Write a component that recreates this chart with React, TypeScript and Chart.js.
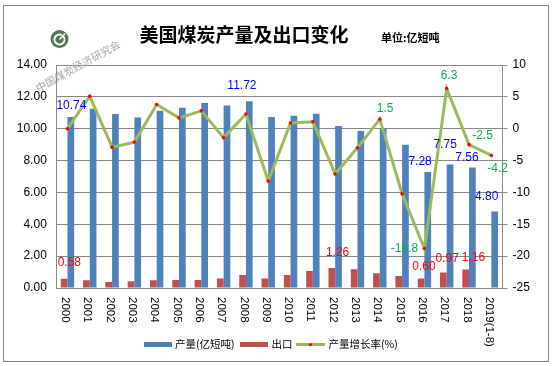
import React, { useEffect, useRef } from 'react';
import { Chart, registerables } from 'chart.js';

Chart.register(...registerables);

// ---------------- data ----------------
const years = ['2000', '2001', '2002', '2003', '2004', '2005', '2006', '2007', '2008', '2009',
  '2010', '2011', '2012', '2013', '2014', '2015', '2016', '2017', '2018', '2019(1-8)'];

// 产量 (亿短吨)
const production = [10.74, 11.25, 10.93, 10.70, 11.12, 11.31, 11.62, 11.45, 11.72, 10.74,
  10.82, 10.94, 10.17, 9.85, 10.01, 9.00, 7.28, 7.75, 7.56, 4.80];

// 出口 (亿短吨)
const exportsData: (number | null)[] = [0.58, 0.49, 0.38, 0.43, 0.48, 0.50, 0.50, 0.59, 0.82, 0.59,
  0.82, 1.07, 1.26, 1.18, 0.93, 0.75, 0.60, 0.97, 1.16, null];

// 产量增长率 (%)
const growth = [0.0, 5.1, -2.9, -2.1, 3.8, 1.7, 2.8, -1.4, 2.3, -8.2,
  0.9, 1.1, -7.1, -3.0, 1.5, -10.2, -18.8, 6.3, -2.5, -4.2];

// which points carry a value label
const prodLabelIdx = [0, 8, 16, 17, 18, 19];
const expLabelIdx = [0, 12, 16, 17, 18];
const growthLabelIdx = [14, 16, 17, 18, 19];

const leftAxis = { min: 0, max: 14, step: 2 };
const rightAxis = { min: -25, max: 10, step: 5 };

const title = '美国煤炭产量及出口变化';
const unitText = '单位:亿短吨';
const watermark = '中国煤炭经济研究会';
const seriesNames = ['产量(亿短吨)', '出口', '产量增长率(%)'];

// ---------------- styling ----------------
const BLUE = '#4F81BD';
const RED = '#C0504D';
const GREEN = '#9BBB59';
const GRID = '#888888';
const LATIN = "'Liberation Sans', Arial, sans-serif";
const CJK = "'Noto Sans CJK SC', sans-serif";

// label placement offsets [dx from category centre, dy from mark top]
const prodLabelOffsets: Record<number, [number, number]> = {
  0: [4, -11], 8: [-4, -15.5], 16: [-4.3, -10], 17: [-1.6, -19.7], 18: [-2, -10.3], 19: [-4.7, -15],
};
const expLabelOffsets: Record<number, [number, number]> = {
  0: [1.9, -15.7], 12: [2.4, -15], 16: [-0.4, -12], 17: [0.4, -14], 18: [4.4, -12],
};
const growthLabelOffsets: Record<number, [number, number]> = {
  14: [5.3, -10], 16: [-19.9, 0], 17: [2.4, -12.8], 18: [13.5, -9.3], 19: [6.3, 13.3],
};

const decorPlugin = {
  id: 'decor',
  afterDraw(chart: any) {
    const ctx: CanvasRenderingContext2D = chart.ctx;
    const xs = chart.scales.x;

    ctx.save();
    // outer frame
    ctx.strokeStyle = GRID;
    ctx.lineWidth = 1;
    ctx.strokeRect(3.5, 5.5, 545, 356);

    // logo
    ctx.fillStyle = '#527650';
    ctx.beginPath();
    ctx.arc(59.5, 39, 9, 0, Math.PI * 2);
    ctx.fill();
    ctx.strokeStyle = '#ffffff';
    ctx.lineWidth = 2;
    ctx.beginPath();
    ctx.arc(59.5, 39.5, 5, -0.25 * Math.PI, 1.65 * Math.PI);
    ctx.stroke();
    ctx.lineWidth = 1.5;
    ctx.beginPath();
    ctx.moveTo(59.5, 39.5);
    ctx.lineTo(65, 33.5);
    ctx.stroke();

    // watermark
    ctx.save();
    ctx.translate(78, 66);
    ctx.rotate(-29 * Math.PI / 180);
    ctx.fillStyle = '#a6a6a6';
    ctx.font = `10.5px ${CJK}`;
    ctx.textAlign = 'center';
    ctx.textBaseline = 'middle';
    ctx.fillText(watermark, 0, 0);
    ctx.restore();

    // title
    ctx.fillStyle = '#000';
    ctx.font = `bold 19px ${CJK}`;
    ctx.textAlign = 'center';
    ctx.textBaseline = 'middle';
    ctx.fillText(title, 244, 34.5);
    ctx.font = `bold 11px ${CJK}`;
    ctx.textAlign = 'left';
    ctx.fillText(unitText, 381, 37.5);

    // x category labels, rotated to read top-to-bottom
    ctx.font = `11.5px ${LATIN}`;
    ctx.fillStyle = '#000';
    years.forEach((y, i) => {
      const x = xs.getPixelForValue(i) - 2.2;
      ctx.save();
      ctx.translate(x, 297);
      ctx.rotate(Math.PI / 2);
      ctx.textAlign = 'left';
      ctx.textBaseline = 'middle';
      ctx.fillText(y, 0, 0);
      ctx.restore();
    });

    // value labels
    ctx.font = `12px ${LATIN}`;
    ctx.textAlign = 'center';
    ctx.textBaseline = 'middle';
    const drawLabels = (di: number, idx: number[], offs: Record<number, [number, number]>, color: string, fmt: (v: number) => string) => {
      const meta = chart.getDatasetMeta(di);
      const ds = chart.data.datasets[di].data;
      ctx.fillStyle = color;
      idx.forEach((i) => {
        const el = meta.data[i];
        if (!el || ds[i] == null) return;
        const [dx, dy] = offs[i] || [0, -10];
        ctx.fillText(fmt(ds[i] as number), xs.getPixelForValue(i) + dx, el.y + dy);
      });
    };
    drawLabels(0, prodLabelIdx, prodLabelOffsets, '#0000FF', (v) => v.toFixed(2));
    drawLabels(1, expLabelIdx, expLabelOffsets, '#FF0000', (v) => v.toFixed(2));
    drawLabels(2, growthLabelIdx, growthLabelOffsets, '#00B050', (v) => v.toFixed(1));

    // legend
    const ly = 344.5;
    ctx.font = `10.5px ${CJK}`;
    ctx.textAlign = 'left';
    ctx.textBaseline = 'middle';
    ctx.fillStyle = BLUE;
    ctx.fillRect(144, 342, 28, 5);
    ctx.fillStyle = '#000';
    ctx.fillText(seriesNames[0], 175, ly);
    ctx.fillStyle = RED;
    ctx.fillRect(240, 342, 28, 5);
    ctx.fillStyle = '#000';
    ctx.fillText(seriesNames[1], 271.5, ly);
    ctx.strokeStyle = GREEN;
    ctx.lineWidth = 3;
    ctx.beginPath();
    ctx.moveTo(296, ly);
    ctx.lineTo(325, ly);
    ctx.stroke();
    ctx.fillStyle = '#FF0000';
    ctx.beginPath();
    ctx.arc(310.5, ly, 1.6, 0, Math.PI * 2);
    ctx.fill();
    ctx.fillStyle = '#000';
    ctx.fillText(seriesNames[2], 328.5, ly);

    ctx.restore();
  },
};

export default function App() {
  const ref = useRef<HTMLCanvasElement | null>(null);

  useEffect(() => {
    if (!ref.current) return;
    Chart.defaults.font.family = LATIN;
    const chart = new Chart(ref.current, {
      type: 'bar',
      data: {
        labels: years,
        datasets: [
          {
            type: 'bar',
            label: seriesNames[0],
            data: production,
            backgroundColor: BLUE,
            yAxisID: 'y',
            barPercentage: 1,
            categoryPercentage: 0.6,
            order: 2,
          },
          {
            type: 'bar',
            label: seriesNames[1],
            data: exportsData,
            backgroundColor: RED,
            yAxisID: 'y',
            barPercentage: 1,
            categoryPercentage: 0.6,
            order: 1,
          },
          {
            type: 'line',
            label: seriesNames[2],
            data: growth,
            borderColor: GREEN,
            borderWidth: 3,
            pointRadius: 1.8,
            pointBackgroundColor: '#FF0000',
            pointBorderWidth: 0,
            tension: 0,
            yAxisID: 'y1',
            order: 0,
          } as any,
        ],
      },
      options: {
        responsive: false,
        animation: false,
        devicePixelRatio: 1,
        layout: { padding: { top: 65, left: 0, right: 0, bottom: 0 } },
        plugins: {
          legend: { display: false },
          tooltip: { enabled: false },
          title: { display: false },
        },
        scales: {
          x: {
            type: 'category',
            offset: true,
            grid: { display: false },
            border: { display: true, color: GRID },
            ticks: { display: false },
            afterFit: (s: any) => { s.height = 78; },
          },
          y: {
            position: 'left',
            min: leftAxis.min,
            max: leftAxis.max,
            ticks: {
              stepSize: leftAxis.step,
              padding: 9.5,
              color: '#000',
              font: { size: 12, family: LATIN },
              callback: (v: any) => Number(v).toFixed(2),
            },
            grid: { color: GRID, drawTicks: false },
            border: { display: true, color: GRID },
            afterFit: (s: any) => { s.width = 56.3; },
          },
          y1: {
            position: 'right',
            min: rightAxis.min,
            max: rightAxis.max,
            ticks: {
              stepSize: rightAxis.step,
              padding: 5,
              color: '#000',
              font: { size: 12, family: LATIN },
            },
            grid: { drawOnChartArea: false, drawTicks: true, tickLength: 5, color: GRID },
            border: { display: true, color: GRID },
            afterFit: (s: any) => { s.width = 49.5; },
          },
        } as any,
      },
      plugins: [decorPlugin],
    });
    return () => chart.destroy();
  }, []);

  return (
    <div style={{ position: 'fixed', left: 0, top: 0, width: 552, height: 366, background: '#fff' }}>
      <canvas ref={ref} width={552} height={366} style={{ display: 'block', width: 552, height: 366 }} />
    </div>
  );
}
